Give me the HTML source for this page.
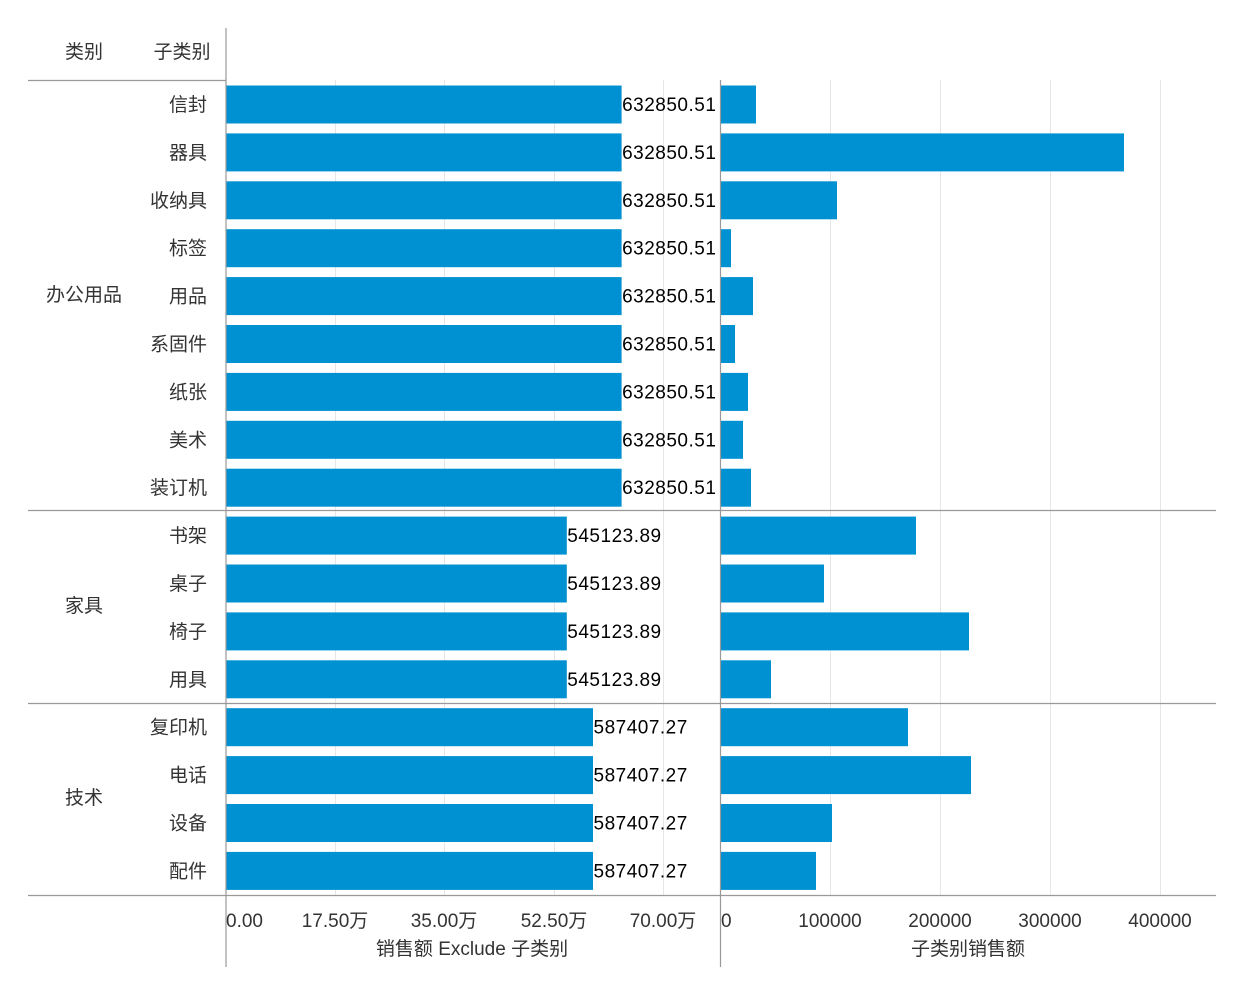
<!DOCTYPE html>
<html><head><meta charset="utf-8"><style>
html,body{margin:0;padding:0;background:#fff;}
svg{display:block;font-family:"Liberation Sans","Noto Sans CJK SC",sans-serif;}
</style></head><body>
<svg width="1240" height="997" viewBox="0 0 1240 997" xmlns="http://www.w3.org/2000/svg">
<g stroke="#e6e6e6" stroke-width="1">
<line x1="335.5" y1="80" x2="335.5" y2="895"/><line x1="444.5" y1="80" x2="444.5" y2="895"/><line x1="554.5" y1="80" x2="554.5" y2="895"/><line x1="663.5" y1="80" x2="663.5" y2="895"/>
<line x1="830.5" y1="80" x2="830.5" y2="895"/><line x1="940.5" y1="80" x2="940.5" y2="895"/><line x1="1050.5" y1="80" x2="1050.5" y2="895"/><line x1="1160.5" y1="80" x2="1160.5" y2="895"/>
</g>
<g fill="#0091d2" id="bars"></g>
<g font-size="19" fill="#000" id="vals" letter-spacing="0.5"></g>
<g font-size="19" fill="#333" id="subs" text-anchor="end"></g>
<g stroke="#999" stroke-width="1.2">
<line x1="28" y1="80.5" x2="226" y2="80.5"/>
<line x1="28" y1="510.5" x2="1216" y2="510.5"/>
<line x1="28" y1="703.5" x2="1216" y2="703.5"/>
<line x1="28" y1="895.5" x2="1216" y2="895.5"/>
<line x1="226" y1="28" x2="226" y2="967"/>
<line x1="720.5" y1="80" x2="720.5" y2="967"/>
</g>
<g font-size="19" fill="#333">
<text x="84" y="58" text-anchor="middle">类别</text>
<text x="182" y="58" text-anchor="middle">子类别</text>
<text x="84" y="301" text-anchor="middle">办公用品</text>
<text x="84" y="612" text-anchor="middle">家具</text>
<text x="84" y="804" text-anchor="middle">技术</text>
<text x="226" y="927">0.00</text>
<text x="335" y="927" text-anchor="middle">17.50万</text>
<text x="444" y="927" text-anchor="middle">35.00万</text>
<text x="554" y="927" text-anchor="middle">52.50万</text>
<text x="663" y="927" text-anchor="middle">70.00万</text>
<text x="472" y="955" text-anchor="middle">销售额 Exclude 子类别</text>
<text x="721" y="927">0</text>
<text x="830" y="927" text-anchor="middle">100000</text>
<text x="940" y="927" text-anchor="middle">200000</text>
<text x="1050" y="927" text-anchor="middle">300000</text>
<text x="1160" y="927" text-anchor="middle">400000</text>
<text x="968" y="955" text-anchor="middle">子类别销售额</text>
</g>
<script>
var rows=[["信封",621.6,"632850.51",756],["器具",621.6,"632850.51",1124],["收纳具",621.6,"632850.51",837],["标签",621.6,"632850.51",731],["用品",621.6,"632850.51",753],["系固件",621.6,"632850.51",735],["纸张",621.6,"632850.51",748],["美术",621.6,"632850.51",743],["装订机",621.6,"632850.51",751],
["书架",566.8,"545123.89",916],["桌子",566.8,"545123.89",824],["椅子",566.8,"545123.89",969],["用具",566.8,"545123.89",771],
["复印机",593,"587407.27",908],["电话",593,"587407.27",971],["设备",593,"587407.27",832],["配件",593,"587407.27",816]];
var ns="http://www.w3.org/2000/svg",b=document.getElementById("bars"),v=document.getElementById("vals"),s=document.getElementById("subs");
function el(t,a,p,tx){var e=document.createElementNS(ns,t);for(var k in a)e.setAttribute(k,a[k]);if(tx)e.textContent=tx;p.appendChild(e);}
rows.forEach(function(r,i){var top=85.5+i*47.9;
el("rect",{x:226.5,y:top,width:r[1]-226.5,height:38},b);
el("rect",{x:721,y:top,width:r[3]-721,height:38},b);
el("text",{x:r[1]+0.5,y:top+25.5},v,r[2]);
el("text",{x:207,y:top+25.5},s,r[0]);});
</script>
</svg>
</body></html>
